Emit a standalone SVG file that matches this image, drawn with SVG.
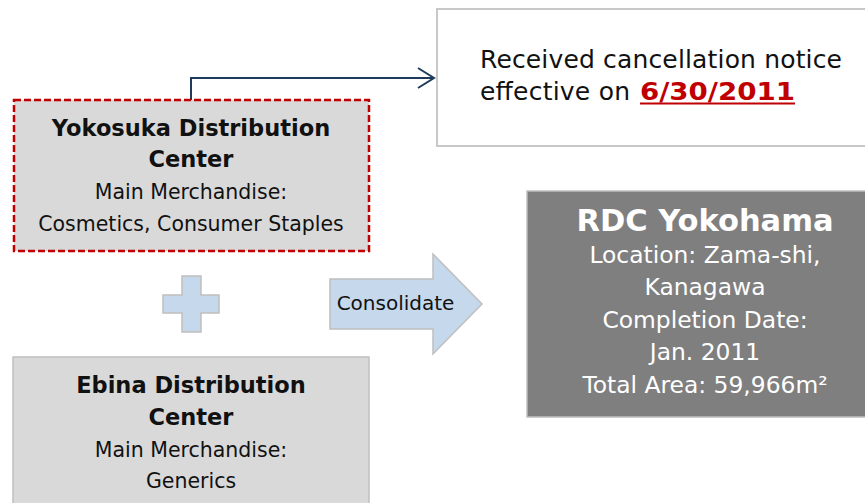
<svg xmlns="http://www.w3.org/2000/svg" width="865" height="503" viewBox="0 0 865 503">
<style>
text{font-family:"DejaVu Sans","Verdana",sans-serif;text-anchor:middle;fill:#111}
.b{font-weight:bold}
.t{font-size:22.5px}
.s{font-size:20.5px}
.w{fill:#fff}
.r{font-size:23.4px}
.box{fill:#D9D9D9;stroke:#BFBFBF;stroke-width:1.5}
.blue{fill:#C5D8EC;stroke:#BFBFBF;stroke-width:1.5}
</style>
<rect width="865" height="503" fill="#fff"/>
<g id="connectors">
<path d="M191,100 V78 H434" fill="none" stroke="#1F3B5B" stroke-width="2"/>
<path d="M418,68 L434,78 L418,88" fill="none" stroke="#1F3B5B" stroke-width="2"/>
</g>
<g id="notice">
<rect x="437" y="9" width="460" height="137" fill="#fff" stroke="#C8C8C8" stroke-width="2"/>
<text x="480" y="68" style="text-anchor:start;font-size:25px" textLength="362" lengthAdjust="spacing">Received cancellation notice</text>
<text x="480" y="100" style="text-anchor:start;font-size:25px" textLength="150" lengthAdjust="spacing">effective on</text>
<text x="640" y="100" class="b" style="text-anchor:start;font-size:25px;fill:#C00000" textLength="155" lengthAdjust="spacingAndGlyphs">6/30/2011</text>
<rect x="640" y="102.5" width="155" height="2" fill="#C00000"/>
</g>
<g id="yokosuka">
<rect x="14" y="100" width="355" height="151" fill="#D9D9D9" stroke="#C00000" stroke-width="2.5" stroke-dasharray="7 3"/>
<text x="191" y="136" class="b t">Yokosuka Distribution</text>
<text x="191" y="167" class="b t">Center</text>
<text x="191" y="199" class="s">Main Merchandise:</text>
<text x="191" y="231" class="s">Cosmetics, Consumer Staples</text>
</g>
<g id="plus">
<polygon class="blue" points="182,276 201,276 201,295 219,295 219,313 201,313 201,332 182,332 182,313 163,313 163,295 182,295"/>
</g>
<g id="consolidate">
<polygon class="blue" points="330,279 433,279 433,254 482,304 433,354 433,329 330,329"/>
<text x="395.5" y="310" style="font-size:20px">Consolidate</text>
</g>
<g id="ebina">
<rect class="box" x="13" y="357" width="356" height="160"/>
<text x="191" y="393" class="b t">Ebina Distribution</text>
<text x="191" y="425" class="b t">Center</text>
<text x="191" y="457" class="s">Main Merchandise:</text>
<text x="191" y="488" class="s">Generics</text>
</g>
<g id="rdc">
<rect x="527" y="191" width="356" height="226" fill="#7F7F7F" stroke="#BFBFBF" stroke-width="1.5"/>
<text x="705" y="231" class="b w" style="font-size:30.5px">RDC Yokohama</text>
<text x="705" y="263" class="w r">Location: Zama-shi,</text>
<text x="705" y="295" class="w r">Kanagawa</text>
<text x="705" y="328" class="w r">Completion Date:</text>
<text x="705" y="360" class="w r">Jan. 2011</text>
<text x="705" y="393" class="w r">Total Area: 59,966m²</text>
</g>
</svg>
